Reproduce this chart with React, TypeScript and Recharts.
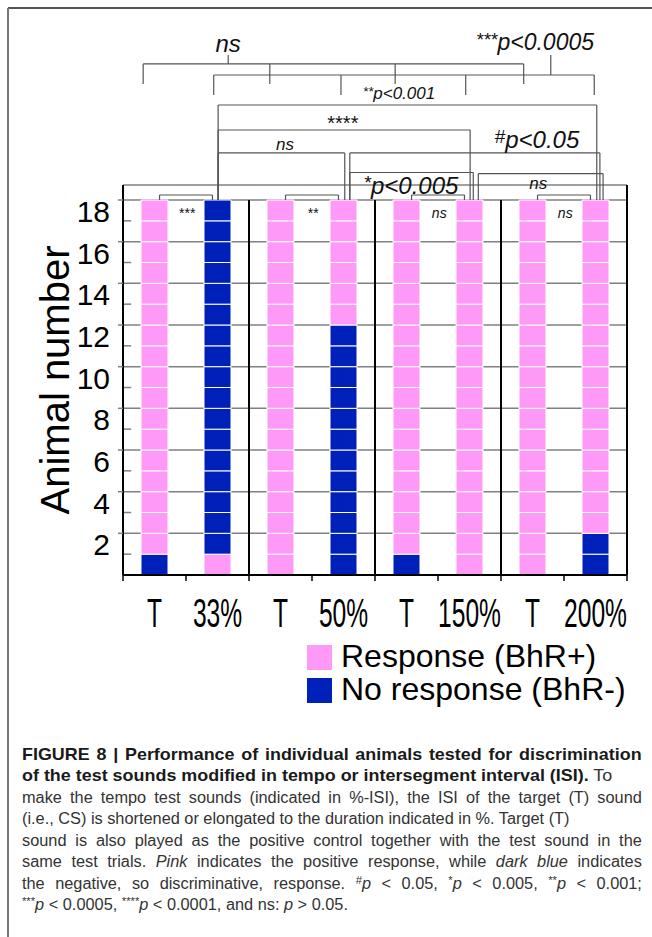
import React, { useMemo } from 'react';
import { BarChart, Bar, Cell, XAxis, YAxis, CartesianGrid, ReferenceLine, ReferenceDot } from 'recharts';

const PINK = '#ff99f7';
const BLUE = '#0021b9';
const FONT = '"Liberation Sans", Arial, sans-serif';

const conditions = ['T', '33%', 'T', '50%', 'T', '150%', 'T', '200%'];

// one entry per animal, animal 1 at the bottom: 1 = response (BhR+), 0 = no response (BhR-)
const target33 = [0, 1, 1, 1, 1, 1, 1, 1, 1, 1, 1, 1, 1, 1, 1, 1, 1, 1];
const test33 = [1, 0, 0, 0, 0, 0, 0, 0, 0, 0, 0, 0, 0, 0, 0, 0, 0, 0];
const target50 = [1, 1, 1, 1, 1, 1, 1, 1, 1, 1, 1, 1, 1, 1, 1, 1, 1, 1];
const test50 = [0, 0, 0, 0, 0, 0, 0, 0, 0, 0, 0, 0, 1, 1, 1, 1, 1, 1];
const target150 = [0, 1, 1, 1, 1, 1, 1, 1, 1, 1, 1, 1, 1, 1, 1, 1, 1, 1];
const test150 = [1, 1, 1, 1, 1, 1, 1, 1, 1, 1, 1, 1, 1, 1, 1, 1, 1, 1];
const target200 = [1, 1, 1, 1, 1, 1, 1, 1, 1, 1, 1, 1, 1, 1, 1, 1, 1, 1];
const test200 = [0, 0, 1, 1, 1, 1, 1, 1, 1, 1, 1, 1, 1, 1, 1, 1, 1, 1];
const columns = [target33, test33, target50, test50, target150, test150, target200, test200];

const animals = [1, 2, 3, 4, 5, 6, 7, 8, 9, 10, 11, 12, 13, 14, 15, 16, 17, 18];
const yTicks = [2, 4, 6, 8, 10, 12, 14, 16, 18];
const yMinorTicks = [1, 3, 5, 7, 9, 11, 13, 15, 17];
const xBoundaries = [0, 1, 2, 3, 4, 5, 6, 7, 8];
const groupSeparators = [2, 4, 6];

const pairStats = ['***', '**', 'ns', 'ns'];

// significance brackets: x in category units, y in animal units
const brackets = [
  { y: 24.53, drops: [0.32, 2.33, 4.32, 6.36], foot: 23.57, stem: 1.67, stemTop: 24.96 },
  { y: 24.0, drops: [1.44, 3.46, 5.44, 7.48], foot: 23.04, stem: 6.79, stemTop: 24.96 },
  { y: 22.56, drops: [1.51, 7.52], foot: 18 },
  { y: 21.36, drops: [1.51, 5.51], foot: 18 },
  { y: 20.26, drops: [1.51, 3.52], foot: 18 },
  { y: 20.26, drops: [3.6, 7.57], foot: 18 },
  { y: 19.32, drops: [3.6, 5.56], foot: 18 },
  { y: 19.27, drops: [5.64, 7.62], foot: 18 },
  ...pairStats.map((_, g) => ({ y: 18.24, drops: [2 * g + 0.58, 2 * g + 1.42], foot: 18 })),
];

const bracketLabels = [
  { mark: '', text: 'ns', x: 1.67, y: 25.54, size: 24, italic: true },
  { mark: '***', text: 'p<0.0005', x: 6.54, y: 25.59, size: 23, italic: true },
  { mark: '**', text: 'p<0.001', x: 4.38, y: 23.14, size: 17, italic: true },
  { mark: '', text: '****', x: 3.49, y: 21.7, size: 20, italic: false },
  { mark: '', text: 'ns', x: 2.57, y: 20.69, size: 17, italic: true },
  { mark: '#', text: 'p<0.05', x: 6.57, y: 20.93, size: 24, italic: true },
  { mark: '*', text: 'p<0.005', x: 4.57, y: 18.72, size: 24, italic: true },
  { mark: '', text: 'ns', x: 6.59, y: 18.82, size: 17, italic: true },
  ...pairStats.map((s, g) => ({ mark: '', text: s, x: 2 * g + 1.02, y: 17.38, size: 14, italic: s === 'ns' })),
];

const legendItems = [
  { label: 'Response (BhR+)', color: PINK },
  { label: 'No response (BhR-)', color: BLUE },
];

type Run = { t: string; b?: boolean; i?: boolean; sup?: boolean };
// justify: stretch word spacing so the line ends at the right margin
const captionLines: { runs: Run[]; justify: boolean }[] = [
  { runs: [{ t: 'FIGURE 8 | Performance of individual animals tested for discrimination', b: true }], justify: true },
  { runs: [{ t: 'of the test sounds modified in tempo or intersegment interval (ISI).', b: true }, { t: ' To' }], justify: false },
  { runs: [{ t: 'make the tempo test sounds (indicated in %-ISI), the ISI of the target (T) sound' }], justify: true },
  { runs: [{ t: '(i.e., CS) is shortened or elongated to the duration indicated in %. Target (T)' }], justify: false },
  { runs: [{ t: 'sound is also played as the positive control together with the test sound in the' }], justify: true },
  { runs: [{ t: 'same test trials. ' }, { t: 'Pink', i: true }, { t: ' indicates the positive response, while ' }, { t: 'dark blue', i: true }, { t: ' indicates' }], justify: true },
  { runs: [{ t: 'the negative, so discriminative, response. ' }, { t: '#', sup: true }, { t: 'p', i: true }, { t: ' < 0.05, ' }, { t: '*', sup: true }, { t: 'p', i: true }, { t: ' < 0.005, ' }, { t: '**', sup: true }, { t: 'p', i: true }, { t: ' < 0.001;' }], justify: true },
  { runs: [{ t: '***', sup: true }, { t: 'p', i: true }, { t: ' < 0.0005, ' }, { t: '****', sup: true }, { t: 'p', i: true }, { t: ' < 0.0001, and ns: ' }, { t: 'p', i: true }, { t: ' > 0.05.' }], justify: false },
];

const data = conditions.map((c, i) => {
  const row: Record<string, string | number> = { key: `c${i}`, label: c, pos: i + 0.5 };
  animals.forEach((a) => {
    row[`a${a}`] = 1;
  });
  return row;
});

const xTicks = [...xBoundaries, ...conditions.map((_, i) => i + 0.5)].sort((a, b) => a - b);

const runFont = (r: Run) =>
  `${r.i ? 'italic ' : ''}${r.b ? 'bold ' : ''}${r.sup ? 11 : 16}px "Liberation Sans"`;

const measureRuns = (runs: Run[]) => {
  const ctx = document.createElement('canvas').getContext('2d');
  if (!ctx) return 600;
  return runs.reduce((w, r) => {
    ctx.font = runFont(r);
    return w + ctx.measureText(r.t).width;
  }, 0);
};

const YTick = (props: any) => {
  const { x, y, payload } = props;
  return (
    <text x={x} y={y + 22} textAnchor="end" fontSize={30} fontFamily={FONT} fill="#000">
      {payload.value}
    </text>
  );
};

// integer positions: tick marks on the category borders; half positions: category names
const XTick = (props: any) => {
  const { x, y, payload } = props;
  const v = Number(payload.value);
  if (Number.isInteger(v)) {
    return <line x1={x} x2={x} y1={y} y2={y + 6} stroke="#000" strokeWidth={1.5} />;
  }
  return (
    <text
      transform={`translate(${x},${y + 52}) scale(0.82,1.35)`}
      textAnchor="middle"
      fontSize={30}
      fontFamily={FONT}
      fill="#000"
    >
      {conditions[Math.floor(v)]}
    </text>
  );
};

const YLabel = (props: any) => {
  const { viewBox } = props;
  const cx = viewBox.x + 46;
  const cy = viewBox.y + viewBox.height / 2;
  return (
    <text
      x={cx}
      y={cy}
      transform={`rotate(-90, ${cx}, ${cy})`}
      textAnchor="middle"
      fontSize={40}
      fontFamily={FONT}
      fill="#000"
    >
      Animal number
    </text>
  );
};

const LabelShape = ({ cx, cy, item }: any) => (
  <text
    x={cx}
    y={cy}
    textAnchor="middle"
    dominantBaseline="central"
    fontSize={item.size}
    fontStyle={item.italic ? 'italic' : 'normal'}
    fontFamily={FONT}
    fill="#111"
  >
    {item.mark && (
      <tspan fontSize={item.size * 0.8} dy={-item.size * 0.12}>
        {item.mark}
      </tspan>
    )}
    <tspan dy={item.mark ? item.size * 0.12 : 0}>{item.text}</tspan>
  </text>
);

const BRACKET = '#555';

export default function App() {
  const captionFit = useMemo(() => {
    const widths = captionLines.map((l) => measureRuns(l.runs));
    // regular text: sized between the short line 4 and the full lines
    const regularScale = 548 / widths[3];
    const boldScale = 591 / widths[1];
    return captionLines.map((l, i) => {
      const s = l.runs.some((r) => r.b) ? boldScale : regularScale;
      const spaces = l.runs.reduce((n, r) => n + (r.t.match(/ /g) || []).length, 0);
      const ws = l.justify && spaces > 0 ? (620 / s - widths[i]) / spaces : 0;
      return { s, ws };
    });
  }, []);

  return (
    <div style={{ position: 'absolute', left: 0, top: 0, width: 652, height: 937, background: '#fff' }}>
      <BarChart
        width={652}
        height={720}
        data={data}
        margin={{ top: 185, right: 25, bottom: 85, left: 23 }}
        barSize={27}
        style={{ position: 'absolute', left: 0, top: 0 }}
      >
        <CartesianGrid xAxisId="grid" vertical={false} stroke="#808080" strokeWidth={1.5} />
        <XAxis
          xAxisId="grid"
          dataKey="pos"
          type="number"
          domain={[0, 8]}
          ticks={xTicks}
          interval={0}
          allowDataOverflow
          height={60}
          tickSize={0}
          tickMargin={0}
          tickLine={false}
          tick={<XTick />}
          axisLine={{ stroke: '#000', strokeWidth: 2 }}
        />
        <XAxis xAxisId="cat" dataKey="key" height={0} hide />
        <YAxis
          domain={[0, 18.72]}
          ticks={yTicks}
          allowDataOverflow
          width={100}
          tickSize={5}
          tickMargin={8}
          tick={<YTick />}
          tickLine={{ stroke: '#808080', strokeWidth: 1.5 }}
          axisLine={{ stroke: '#000', strokeWidth: 2 }}
          label={<YLabel />}
        />
        {animals.map((a) => (
          <Bar
            key={a}
            xAxisId="cat"
            dataKey={`a${a}`}
            stackId="animals"
            stroke="#ffffff"
            strokeWidth={1}
            isAnimationActive={false}
          >
            {columns.map((col, i) => (
              <Cell key={i} fill={col[a - 1] ? PINK : BLUE} />
            ))}
          </Bar>
        ))}
        {yMinorTicks.map((v) => (
          <ReferenceLine
            key={`m${v}`}
            xAxisId="grid"
            segment={[{ x: 0, y: v }, { x: 0.13, y: v }]}
            stroke="#808080"
            strokeWidth={1.5}
            ifOverflow="visible"
          />
        ))}
        {groupSeparators.map((x) => (
          <ReferenceLine
            key={`s${x}`}
            xAxisId="grid"
            segment={[{ x, y: 0 }, { x, y: 18 }]}
            stroke="#000"
            strokeWidth={2}
            ifOverflow="visible"
          />
        ))}
        <ReferenceLine xAxisId="grid" x={8} stroke="#000" strokeWidth={2} ifOverflow="visible" />
        {brackets.map((b, i) => {
          const lo = Math.min(...b.drops);
          const hi = Math.max(...b.drops);
          return (
            <React.Fragment key={`b${i}`}>
              <ReferenceLine
                xAxisId="grid"
                segment={[{ x: lo, y: b.y }, { x: hi, y: b.y }]}
                stroke={BRACKET}
                strokeWidth={1.2}
                ifOverflow="visible"
              />
              {b.drops.map((d) => (
                <ReferenceLine
                  key={`d${i}-${d}`}
                  xAxisId="grid"
                  segment={[{ x: d, y: b.y }, { x: d, y: b.foot }]}
                  stroke={BRACKET}
                  strokeWidth={1.2}
                  ifOverflow="visible"
                />
              ))}
              {b.stem !== undefined && (
                <ReferenceLine
                  xAxisId="grid"
                  segment={[{ x: b.stem, y: b.y }, { x: b.stem, y: b.stemTop }]}
                  stroke={BRACKET}
                  strokeWidth={1.2}
                  ifOverflow="visible"
                />
              )}
            </React.Fragment>
          );
        })}
        {bracketLabels.map((l, i) => (
          <ReferenceDot
            key={`l${i}`}
            xAxisId="grid"
            x={l.x}
            y={l.y}
            r={0}
            ifOverflow="visible"
            shape={(p: any) => <LabelShape cx={p.cx} cy={p.cy} item={l} />}
          />
        ))}
      </BarChart>

      <svg
        width={652}
        height={937}
        style={{ position: 'absolute', left: 0, top: 0, pointerEvents: 'none' }}
      >
        <line x1={8} y1={8} x2={652} y2={8} stroke="#555" strokeWidth={2} />
        <line x1={8} y1={8} x2={8} y2={937} stroke="#777" strokeWidth={2} />
        {legendItems.map((item, i) => (
          <g key={item.label}>
            <rect x={307} y={645 + i * 33} width={25} height={25} fill={item.color} />
            <text x={341} y={667 + i * 33} fontSize={32} fontFamily={FONT} fill="#000">
              {item.label}
            </text>
          </g>
        ))}
        {captionLines.map((line, i) => (
          <text
            key={i}
            transform={`translate(22,${759.5 + i * 21.5}) scale(${captionFit[i].s},1)`}
            fontSize={16}
            fontFamily={FONT}
            fill="#333"
            style={{ whiteSpace: 'pre', wordSpacing: `${captionFit[i].ws}px` }}
          >
            {line.runs.map((r, j) => (
              <tspan
                key={j}
                fontWeight={r.b ? 'bold' : 'normal'}
                fontStyle={r.i ? 'italic' : 'normal'}
                fill={r.b ? '#1a1a1a' : '#333'}
                fontSize={r.sup ? 11 : 16}
                dy={r.sup ? -5 : j > 0 && line.runs[j - 1].sup ? 5 : 0}
              >
                {r.t}
              </tspan>
            ))}
          </text>
        ))}
      </svg>
    </div>
  );
}
